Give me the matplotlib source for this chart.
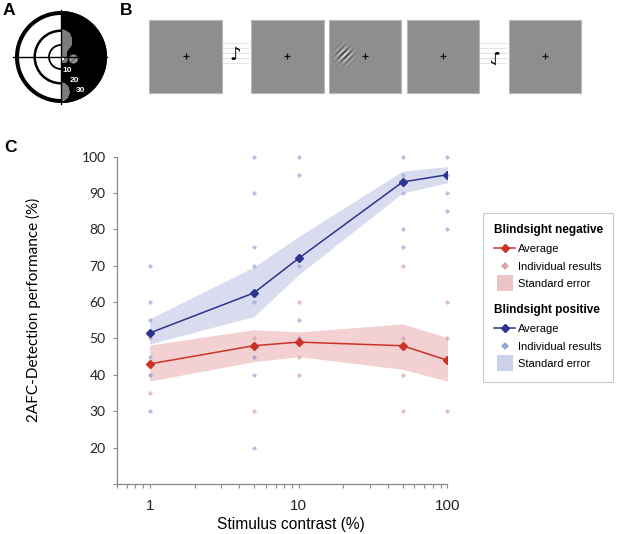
import numpy as np
import matplotlib
matplotlib.use("Agg")
from matplotlib import pyplot as plt
from matplotlib.patches import Rectangle, Circle, Wedge, Polygon
from matplotlib.lines import Line2D
from matplotlib.ticker import FixedLocator, NullFormatter

# --- data (panel C) ---
contrast = [1, 5, 10, 50, 100]

neg_mean = [43, 48, 49, 48, 44]
neg_se_lo = [38.3, 43.6, 45, 41.5, 38.3]
neg_se_hi = [48.2, 52.4, 51.8, 54, 50.2]

pos_mean = [51.5, 62.5, 72, 93, 95]
pos_se_lo = [48.5, 56, 67.5, 90, 92.8]
pos_se_hi = [55.4, 69.6, 78, 96, 97.2]

neg_ind_x = [1, 1, 1, 5, 5, 5, 10, 10, 10, 10, 50, 50, 50, 50, 100, 100, 100]
neg_ind_y = [50, 40, 35, 50, 45, 30, 60, 50, 45, 40, 70, 50, 40, 30, 60, 50, 30]

pos_ind_x = [1, 1, 1, 1, 1, 1, 5, 5, 5, 5, 5, 5, 5, 5,
             10, 10, 10, 10, 10, 50, 50, 50, 50, 50, 100, 100, 100, 100, 100]
pos_ind_y = [70, 60, 55, 45, 40, 30, 100, 90, 75, 70, 60, 45, 40, 20,
             100, 95, 70, 55, 50, 100, 95, 90, 80, 75, 100, 95, 90, 85, 80]

yticks = [10, 20, 30, 40, 50, 60, 70, 80, 90, 100]
ytick_labels = ['', '20', '30', '40', '50', '60', '70', '80', '90', '100']

RED = '#cc3327'
BLUE = '#2c3390'
RED_BAND = '#f3d0d2'
BLUE_BAND = '#d5d7ee'
RED_PT = '#d9a3a6'
BLUE_PT = '#98a6d6'
AXC = '#8a8a8a'

W, H = 617, 534
fig = plt.figure(figsize=(W / 100, H / 100), dpi=100)

# overlay in pixel units for panels A and B
ov = fig.add_axes([0, 0, 1, 1])
ov.set_xlim(0, W)
ov.set_ylim(H, 0)
ov.axis('off')

for lab, (lx, ly) in zip('ABC', [(8.5, 10.5), (126, 10.5), (10.5, 147)]):
    ov.text(lx, ly, lab, fontsize=12.5, fontweight='bold', family='Liberation Sans',
            ha='center', va='center')

# --- panel A: visual field sketch ---
cx, cy = 61, 57
ov.add_patch(Circle((cx, cy), 44, fill=False, lw=2.9, ec='black'))
ov.add_patch(Circle((cx, cy), 26.3, fill=False, lw=1.8, ec='black'))
ov.add_patch(Circle((cx, cy), 12, fill=False, lw=1.3, ec='black'))
ov.add_patch(Wedge((cx, cy), 46, -90, 90, fc='black', ec='none'))
upper_spare = [(61, 29), (65, 30), (70, 33), (72, 38), (72, 45), (69, 49), (67, 52),
               (67, 56), (68, 60), (66, 63), (61, 63)]
lower_spare = [(61, 82), (65, 83), (69, 87), (70, 93), (68, 98), (64, 101), (61, 101)]
ov.add_patch(Polygon(upper_spare, closed=True, fc='#7c7c7c', ec='none'))
ov.add_patch(Polygon(lower_spare, closed=True, fc='#7c7c7c', ec='none'))
ov.add_patch(Circle((73.5, 59), 4.3, fc='#9a9a9a', ec='#6a6a6a', lw=0.5, hatch='/////'))
ov.plot([13, 107], [cy, cy], color='black', lw=1.0)
ov.plot([cx, cx], [10, 104], color='black', lw=1.0)
ov.plot([63.3], [59.3], marker='s', ms=1.5, color='white', mew=0)
for txt, (tx, ty) in zip(['10', '20', '30'], [(67, 70), (74, 80.5), (80.5, 91)]):
    ov.text(tx, ty, txt, color='white', fontsize=6, fontweight='bold',
            family='Liberation Sans', ha='center', va='center')

# --- panel B: trial sequence ---
sq_left = [149.3, 251, 328.7, 406.7, 508.7]
sq_top, sq_size = 20, 72.5
for i, x0 in enumerate(sq_left):
    ov.add_patch(Rectangle((x0, sq_top), sq_size, sq_size, fc='#8e8e8e', ec='#b8b8b8', lw=0.8))
    fx = x0 + sq_size / 2
    ov.plot([fx], [sq_top + sq_size / 2], marker='+', ms=5, mew=0.9, color='#111111')

# gabor patch in third square
gx, gy, gr = 344, 55, 13.5
yy, xx = np.mgrid[-gr:gr:0.5, -gr:gr:0.5]
env = np.exp(-(xx ** 2 + yy ** 2) / (2 * 5.4 ** 2))
grating = np.cos(2 * np.pi * (xx + yy) / np.sqrt(2) / 4.4)
img = 0.557 + 0.42 * env * grating
ov.imshow(img, cmap='gray', vmin=0, vmax=1, extent=(gx - gr, gx + gr, gy + gr, gy - gr),
          interpolation='bilinear', zorder=3)
ov.set_xlim(0, W)
ov.set_ylim(H, 0)
ov.set_aspect('auto')

# tones between frames
for sx0, sx1, rot in [(223, 248, 0), (480, 506, 180)]:
    for ly in [43.3, 48.3, 53.3, 58.3, 63.3]:
        ov.plot([sx0, sx1], [ly, ly], color='#e2e2e2', lw=0.8)
    ov.text((sx0 + sx1) / 2, 55, '\u266a', fontsize=13, rotation=rot,
            family='DejaVu Sans', ha='center', va='center', color='black')

# --- panel C: detection performance ---
ax = fig.add_axes([0.1891, 0.0936, 0.5361, 0.6133])
ax.patch.set_alpha(0)

ax.fill_between(contrast, neg_se_lo, neg_se_hi, color=RED_BAND, lw=0, zorder=1)
ax.fill_between(contrast, pos_se_lo, pos_se_hi, color=BLUE_BAND, lw=0, alpha=0.9, zorder=1)
ax.plot(neg_ind_x, neg_ind_y, 'D', ms=2.6, color=RED_PT, mew=0, alpha=0.7, zorder=2, clip_on=False)
ax.plot(pos_ind_x, pos_ind_y, 'D', ms=2.6, color=BLUE_PT, mew=0, alpha=0.7, zorder=2, clip_on=False)
ax.plot(contrast, neg_mean, '-D', color=RED, lw=1.1, ms=3.6, zorder=3)
ax.plot(contrast, pos_mean, '-D', color=BLUE, lw=1.1, ms=3.6, zorder=3)

ax.set_xscale('log')
ax.set_xlim(0.6, 100)
ax.set_ylim(10, 100)
ax.set_xticks([1, 10, 100])
ax.set_xticklabels(['1', '10', '100'], family='Liberation Sans', fontsize=11, color='#222222')
minors = [m * d for d in [0.1, 1, 10] for m in range(2, 10) if 0.6 <= m * d < 100]
ax.xaxis.set_minor_locator(FixedLocator(minors))
ax.xaxis.set_minor_formatter(NullFormatter())
ax.set_yticks(yticks)
ax.set_yticklabels(ytick_labels, family='Lato', fontsize=10, color='#222222')

for side in ['top', 'right']:
    ax.spines[side].set_visible(False)
for side in ['left', 'bottom']:
    ax.spines[side].set_color(AXC)
    ax.spines[side].set_linewidth(0.9)
ax.tick_params(which='both', direction='out', length=3, width=0.8, color=AXC)
ax.tick_params(axis='x', which='major', pad=8)
ax.tick_params(axis='y', pad=5)

ax.set_xlabel('Stimulus contrast (%)', family='Liberation Sans', fontsize=11.2)
ax.xaxis.label.set_va('center')
ax.xaxis.set_label_coords(0.526, -0.123)
ax.set_ylabel('2AFC-Detection performance (%)', family='Lato', fontsize=11)
ax.yaxis.label.set_va('center')
ax.yaxis.set_label_coords(-0.253, 0.531)

# --- legend ---
ov.add_patch(Rectangle((483, 213), 130, 169, fill=False, ec='#c8c8c8', lw=0.8))
leg_kw = dict(frameon=False, borderpad=0, borderaxespad=0, handlelength=1.9,
              handletextpad=0.3, labelspacing=0.68, alignment='left',
              prop={'family': 'Liberation Sans', 'size': 8},
              title_fontproperties={'family': 'Liberation Sans', 'size': 8.5, 'weight': 'bold'},
              loc='upper left', bbox_transform=ov.transData)

def group_handles(line_c, pt_c, band_c):
    return [Line2D([], [], color=line_c, marker='D', ms=3.6, lw=1.1),
            Line2D([], [], color=pt_c, marker='D', ms=4, lw=0, mew=0),
            Line2D([], [], color=band_c, marker='s', ms=11, lw=0, mew=0)]

labels = ['Average', 'Individual results', 'Standard error']
leg1 = ov.legend(group_handles(RED, RED_PT, '#ebc4c5'), labels, title='Blindsight negative',
                 bbox_to_anchor=(494, 224.5), **leg_kw)
ov.add_artist(leg1)
leg2 = ov.legend(group_handles(BLUE, BLUE_PT, '#cdd1ec'), labels, title='Blindsight positive',
                 bbox_to_anchor=(494, 304.5), **leg_kw)

fig.savefig('out.png', dpi=100)
